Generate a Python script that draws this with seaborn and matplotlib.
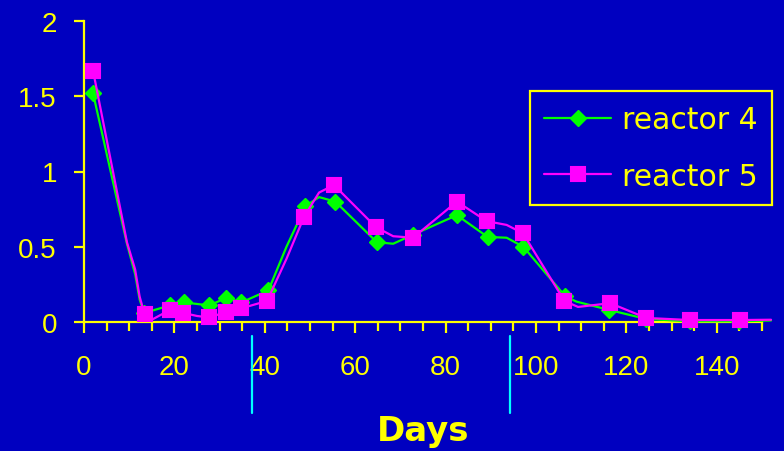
import matplotlib
matplotlib.use("Agg")
import matplotlib.pyplot as plt
import pandas as pd
import seaborn as sns
from matplotlib.ticker import MultipleLocator, FixedLocator, FixedFormatter

# ---------------- data ----------------
# line vertices; *_marked says whether a marker is drawn at that vertex
r4_days = [2, 9.5, 11.3, 12.3, 13.3, 19, 22.2, 27.7, 31.5, 34.8, 40.8, 44.8, 49, 52,
           55.6, 64.8, 68.4, 72.8, 82.5, 89.3, 93.5, 97.2, 106.5, 109, 116.2, 124.4,
           134, 145, 152]
r4_vals = [1.52, 0.52, 0.32, 0.15, 0.06, 0.11, 0.13, 0.11, 0.16, 0.13, 0.21, 0.50, 0.77, 0.83,
           0.80, 0.53, 0.52, 0.58, 0.71, 0.565, 0.56, 0.50, 0.17, 0.135, 0.08, 0.02,
           0.005, 0.005, 0.01]
r4_marked = [True, False, False, False, True, True, True, True, True, True, True, False, True, False,
             True, True, False, True, True, True, False, True, True, False, True, True,
             True, True, False]

r5_days = [2, 9.5, 11.3, 12.3, 13.4, 15.3, 19, 22, 25, 27.6, 31.4, 34.7, 40.5, 44.8, 48.7, 52,
           55.3, 64.6, 68.4, 72.8, 82.5, 89.1, 93.5, 97.1, 106.3, 109.3, 116.4, 124.4,
           134, 145.1, 152]
r5_vals = [1.67, 0.53, 0.35, 0.17, 0.05, 0.02, 0.08, 0.06, 0.04, 0.03, 0.065, 0.09, 0.14, 0.42, 0.70, 0.86,
           0.91, 0.63, 0.57, 0.56, 0.80, 0.67, 0.645, 0.59, 0.14, 0.10, 0.125, 0.027,
           0.013, 0.013, 0.015]
r5_marked = [True, False, False, False, True, False, True, True, False, True, True, True, True, False, True, False,
             True, True, False, True, True, True, False, True, True, False, True, True,
             True, True, False]

series_names = ["reactor 4", "reactor 5"]
x_ticks = [0, 20, 40, 60, 80, 100, 120, 140]
y_ticks = [0, 0.5, 1, 1.5, 2]
y_tick_labels = ["0", "0.5", "1", "1.5", "2"]
marker_days = [37.2, 94.2]   # cyan marks below the axis
x_label = "Days"

# ---------------- style ----------------
BG = "#0000C0"
YELLOW = "#FFFF00"
GREEN = "#00FF00"
MAGENTA = "#FF00FF"
CYAN = "#00FFFF"

sns.set_theme(style="ticks")
plt.rcParams["font.family"] = ["Liberation Sans", "DejaVu Sans"]

fig = plt.figure(figsize=(7.84, 4.52), dpi=100, facecolor=BG)
ax = fig.add_axes([84 / 784, 1 - 323 / 452, 678 / 784, 301 / 452])
ax.set_facecolor(BG)

df4 = pd.DataFrame({"day": r4_days, "val": r4_vals})
df5 = pd.DataFrame({"day": r5_days, "val": r5_vals})

sns.lineplot(data=df4, x="day", y="val", ax=ax, color=GREEN, linewidth=1.6,
             marker="D", markevery=r4_marked, markersize=8, mec=GREEN, mfc=GREEN, mew=1,
             label=series_names[0], estimator=None, sort=False, clip_on=False, zorder=3)
sns.lineplot(data=df5, x="day", y="val", ax=ax, color=MAGENTA, linewidth=1.6,
             marker="s", markevery=r5_marked, markersize=9.5, mec=MAGENTA, mfc=MAGENTA, mew=1.5,
             label=series_names[1], estimator=None, sort=False, clip_on=False, zorder=4)

ax.set_xlim(0, 150)
ax.set_ylim(0, 2)

ax.xaxis.set_major_locator(FixedLocator(x_ticks))
ax.xaxis.set_minor_locator(MultipleLocator(5))
ax.yaxis.set_major_locator(FixedLocator(y_ticks))
ax.yaxis.set_major_formatter(FixedFormatter(y_tick_labels))

for s in ["top", "right"]:
    ax.spines[s].set_visible(False)
for s in ["left", "bottom"]:
    ax.spines[s].set_color(YELLOW)
    ax.spines[s].set_linewidth(1.6)

ax.tick_params(axis="x", which="major", colors=YELLOW, length=8, width=1.6,
               labelsize=20, pad=15, direction="out")
ax.tick_params(axis="x", which="minor", colors=YELLOW, length=6.5, width=1.6, direction="out")
ax.tick_params(axis="y", which="major", colors=YELLOW, length=7.5, width=1.6,
               labelsize=20, pad=12, direction="out")
for lab in ax.get_xticklabels() + ax.get_yticklabels():
    lab.set_color(YELLOW)

ax.set_ylabel("")
ax.set_xlabel(x_label, fontsize=24.5, fontweight="bold", color=YELLOW, family="DejaVu Sans")
ax.xaxis.set_label_coords(0.5, (323 - 432) / 301)
ax.xaxis.label.set_va("center")

for d in marker_days:
    ax.axvline(d, ymin=(323 - 337) / 301, ymax=(323 - 414) / 301, color=CYAN,
               linewidth=1.6, clip_on=False)

handles, labels = ax.get_legend_handles_labels()
leg = ax.legend(handles, labels, loc="upper right", bbox_to_anchor=(772 / 784, 1 - 92 / 452),
                bbox_transform=fig.transFigure, borderaxespad=0, frameon=True, fancybox=False,
                edgecolor=YELLOW, facecolor=BG, framealpha=1,
                prop={"family": "DejaVu Sans", "size": 21.5}, labelcolor=YELLOW,
                handlelength=2.25, handletextpad=0.35, labelspacing=0.92, borderpad=0.48)
leg.get_frame().set_linewidth(1.6)

fig.savefig("out.png", dpi=100, facecolor=BG)
